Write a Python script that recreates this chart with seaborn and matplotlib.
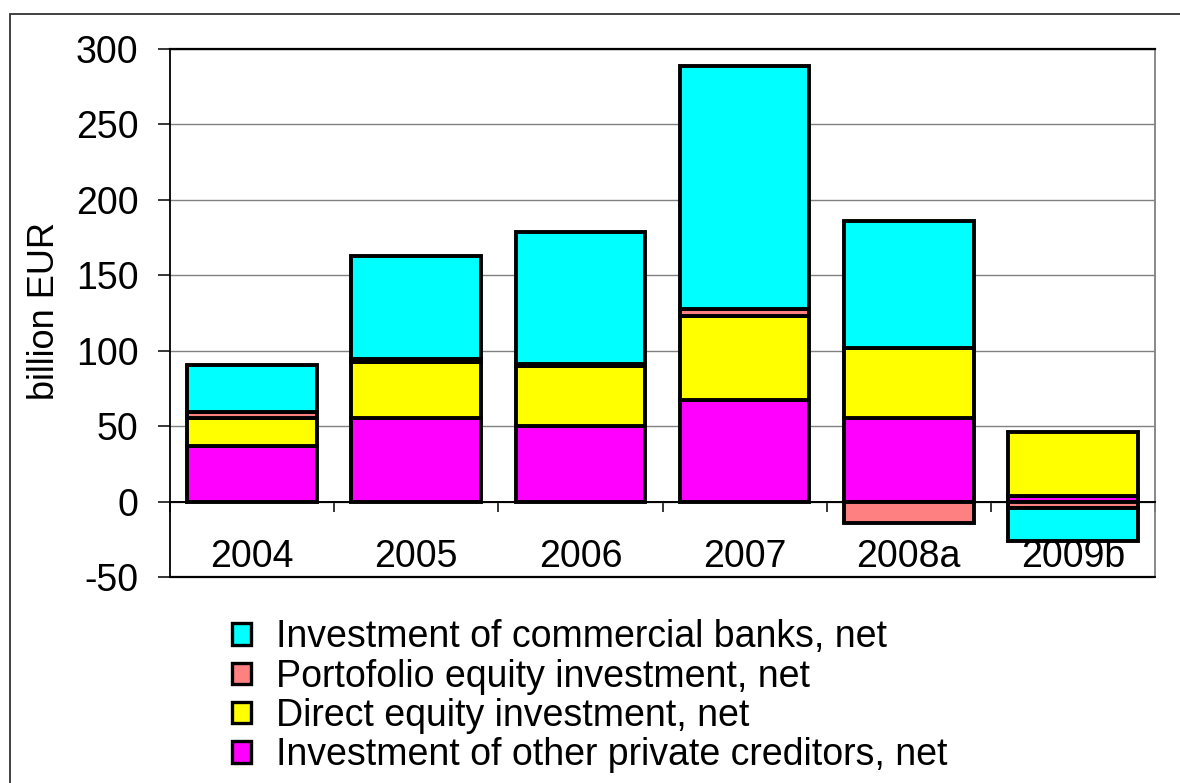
import numpy as np
import matplotlib
matplotlib.use("Agg")
import matplotlib.pyplot as plt
from matplotlib.patches import Patch, Rectangle
import seaborn as sns

# Net capital inflows by component, billion EUR
years = ["2004", "2005", "2006", "2007", "2008a", "2009b"]
other_private = [37.0, 55.5, 50.0, 67.0, 55.5, 4.0]
direct_equity = [18.5, 37.0, 40.0, 56.0, 46.5, 42.0]
portfolio_equity = [4.0, 2.0, 1.5, 4.5, -14.0, -4.0]
commercial_banks = [31.0, 68.0, 87.0, 161.5, 84.0, -22.0]

series_names = [
    "Investment of other private creditors, net",
    "Direct equity investment, net",
    "Portofolio equity investment, net",
    "Investment of commercial banks, net",
]
series_values = [other_private, direct_equity, portfolio_equity, commercial_banks]
series_colors = ["#FF00FF", "#FFFF00", "#FF8080", "#00FFFF"]

sns.set_style("white")
plt.rcParams["font.family"] = ["Liberation Sans", "DejaVu Sans"]
plt.rcParams["text.color"] = "black"
plt.rcParams["axes.labelcolor"] = "black"
plt.rcParams["xtick.color"] = "black"
plt.rcParams["ytick.color"] = "black"

fig = plt.figure(figsize=(11.8, 7.83), dpi=100)
ax = fig.add_axes([0.1441, 0.2631, 0.8347, 0.6743])

# Stack positives upward and negatives downward, as separate piles
pos_base = np.zeros(len(years))
neg_base = np.zeros(len(years))
for name, vals, col in zip(series_names, series_values, series_colors):
    v = np.asarray(vals, dtype=float)
    bottom = np.where(v >= 0, pos_base, neg_base)
    sns.barplot(x=years, y=v, bottom=bottom, color=col, saturation=1,
                edgecolor="black", linewidth=2.8, width=0.79, ax=ax, zorder=3)
    pos_base = np.where(v >= 0, pos_base + v, pos_base)
    neg_base = np.where(v < 0, neg_base + v, neg_base)

# Value axis
ax.set_ylim(-50, 300)
ax.set_yticks(np.arange(-50, 301, 50))
ax.set_yticklabels([str(t) for t in range(-50, 301, 50)], fontsize=27)
ax.tick_params(axis="y", direction="out", length=8.6, width=1.1, color="black",
               pad=14, left=True)
ax.yaxis.grid(True, color="#808080", linewidth=1.0)
ax.set_axisbelow(True)
ax.set_ylabel("billion EUR", fontsize=26)
ax.yaxis.set_label_coords(-0.110, 0.504)

# Category axis running along zero
ax.set_xlim(-0.5, len(years) - 0.5)
ax.spines["bottom"].set_position(("data", 0))
ax.spines["bottom"].set_linewidth(1.4)
ax.spines["bottom"].set_color("black")
ax.set_xticks(np.arange(-0.5, len(years), 1.0))
ax.set_xticklabels([])
ax.set_xticks(np.arange(len(years)), minor=True)
ax.set_xticklabels(years, minor=True, fontsize=27)
ax.tick_params(axis="x", which="major", direction="out", length=7, width=1.1,
               color="black", bottom=True)
ax.tick_params(axis="x", which="minor", length=0, pad=27)
ax.set_xlabel("")

# Plot-area frame
ax.spines["left"].set_color("black")
ax.spines["left"].set_linewidth(1.3)
ax.spines["top"].set_color("black")
ax.spines["top"].set_linewidth(1.6)
ax.spines["right"].set_color("#808080")
ax.spines["right"].set_linewidth(1.3)
ax.axhline(-50, color="black", linewidth=1.6, zorder=4, clip_on=False)

# Legend below the plot
handles = [Patch(facecolor=c, edgecolor="black", linewidth=2.4)
           for c in series_colors[::-1]]
fig.legend(handles, series_names[::-1], loc="upper left",
           bbox_to_anchor=(0.197, 0.209), bbox_transform=fig.transFigure,
           frameon=False, fontsize=27, handlelength=0.5, handleheight=0.5,
           handletextpad=0.65, labelspacing=0.09, borderpad=0, borderaxespad=0)

# Outer chart border
fig.patches.append(Rectangle((10 / 1180, -0.1), 1.2, 1.1 - 14 / 783,
                             transform=fig.transFigure, fill=False,
                             edgecolor="#333333", linewidth=1.3))

fig.savefig("out.png", dpi=100)
